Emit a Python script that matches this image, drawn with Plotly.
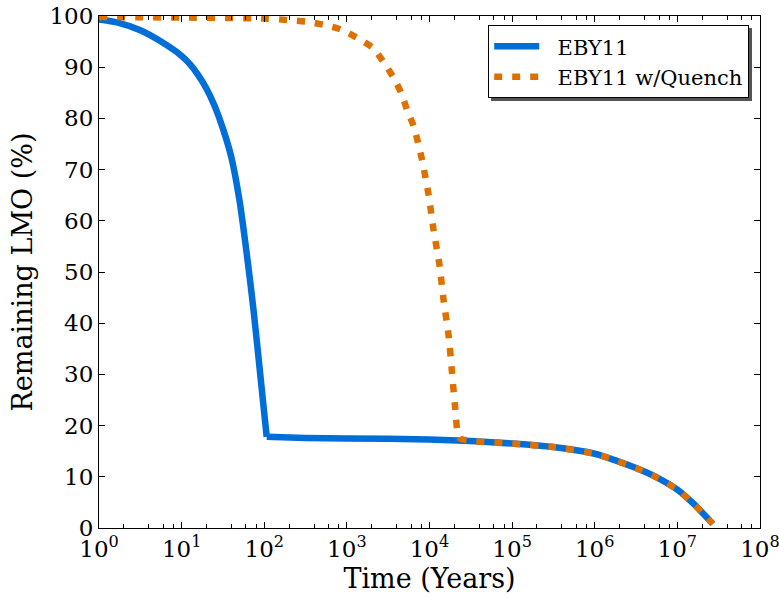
import plotly.graph_objects as go

# ---- data ----
eby_years = [1, 1.78, 3.16, 5.62, 10, 12.6, 15.8, 20.0, 25.1, 31.6, 39.8, 50.1, 63.1,
             74.1, 89.1, 107, 316, 1000, 10000, 31600, 100000, 316000, 1000000,
             1780000, 3160000, 5620000, 10000000, 15800000, 26900000]
eby_vals = [99.3, 98.6, 97.2, 95.0, 92.2, 90.6, 88.5, 85.8, 82.4, 78.0, 72.5, 64.0, 52.0,
            42.6, 30.2, 17.8, 17.6, 17.5, 17.3, 17.0, 16.5, 15.8, 14.5,
            13.2, 11.7, 9.9, 7.5, 4.7, 0.8]
eby_corner = 15  # index of the sharp corner (end of the fast drop)

q_years = [1, 10, 100, 204, 324, 550, 871, 1380, 2090, 2750, 3630, 4570, 5370,
           6460, 8130, 9770, 11200, 13200, 14800, 17000, 18600, 20400, 22900,
           31600, 100000, 316000, 1000000, 1780000, 3160000, 5620000, 10000000,
           15800000, 26900000]
q_vals = [99.8, 99.7, 99.5, 99.2, 98.9, 98.2, 97.3, 95.6, 93.7, 91.1, 88.1, 84.9, 81.6,
          78.4, 71.9, 65.0, 58.2, 51.4, 44.5, 37.7, 30.9, 23.7, 17.6,
          17.0, 16.5, 15.8, 14.5, 13.2, 11.7, 9.9, 7.5, 4.7, 0.8]

x_tickvals = [10 ** k for k in range(0, 9)]
x_ticktext = ["10<sup>%d</sup>" % k for k in range(0, 9)]
x_minor = [m * 10 ** k for k in range(0, 8) for m in (2, 4, 6, 8)]
y_tickvals = list(range(0, 101, 10))

BLUE = "#006ED9"
ORANGE = "#DE7000"
FONT = "DejaVu Serif"
PAD = "\u00a0\u00a0"

fig = go.Figure()
fig.add_trace(go.Scatter(x=eby_years[:eby_corner + 1], y=eby_vals[:eby_corner + 1],
                         mode="lines", name=PAD + "EBY11", legendgroup="eby",
                         line=dict(color=BLUE, width=6.5, shape="spline", smoothing=0.7)))
fig.add_trace(go.Scatter(x=eby_years[eby_corner:], y=eby_vals[eby_corner:],
                         mode="lines", name=PAD + "EBY11", legendgroup="eby",
                         showlegend=False,
                         line=dict(color=BLUE, width=6.5, shape="spline", smoothing=0.7)))
fig.add_trace(go.Scatter(x=q_years, y=q_vals, mode="lines", name=PAD + "EBY11 w/Quench",
                         line=dict(color=ORANGE, width=6.5, dash="8px,10px",
                                   shape="spline", smoothing=0.6)))

W, H = 779, 603
L, R, T, B = 99, 19, 16, 75
pw, ph = W - L - R, H - T - B

def px_x(p):
    return (p - L) / pw

def px_y(p):
    return (H - B - p) / ph

# legend shadow
fig.add_shape(type="rect", xref="paper", yref="paper",
              x0=px_x(491), x1=px_x(752), y0=px_y(101), y1=px_y(28),
              fillcolor="#555555", line=dict(width=0), layer="above")

fig.update_layout(
    width=W, height=H,
    margin=dict(l=L, r=R, t=T, b=B, pad=0, autoexpand=False),
    paper_bgcolor="white", plot_bgcolor="white",
    font=dict(family=FONT, color="black", size=23),
    showlegend=True,
    legend=dict(x=px_x(749), y=px_y(25), xanchor="right", yanchor="top",
                bgcolor="white", bordercolor="black", borderwidth=1.2,
                font=dict(size=21, family=FONT), tracegroupgap=0,
                itemwidth=45),
    xaxis=dict(type="log", range=[-0.0005, 8.0005], tickmode="array", tickvals=x_tickvals,
               ticktext=x_ticktext, ticks="inside", ticklen=6, tickwidth=1,
               tickcolor="black", showline=True, linecolor="black", linewidth=1.2,
               mirror="ticks", showgrid=False, zeroline=False, automargin=False,
               ticklabeloverflow="allow",
               minor=dict(tickmode="array", tickvals=x_minor, ticks="inside",
                          ticklen=3.5, tickcolor="black", tickwidth=1, showgrid=False),
               title=dict(text="Time (Years)", font=dict(size=27, family=FONT), standoff=8),
               tickfont=dict(size=23, family=FONT)),
    yaxis=dict(range=[0, 100], tickmode="array", tickvals=y_tickvals,
               ticks="inside", ticklen=6, tickwidth=1, tickcolor="black",
               showline=True, linecolor="black", linewidth=1.2, mirror="ticks",
               showgrid=False, zeroline=False, automargin=False,
               title=dict(text="Remaining LMO (%)", font=dict(size=27, family=FONT), standoff=8),
               tickfont=dict(size=23, family=FONT)),
)

fig.write_html("out.html")
